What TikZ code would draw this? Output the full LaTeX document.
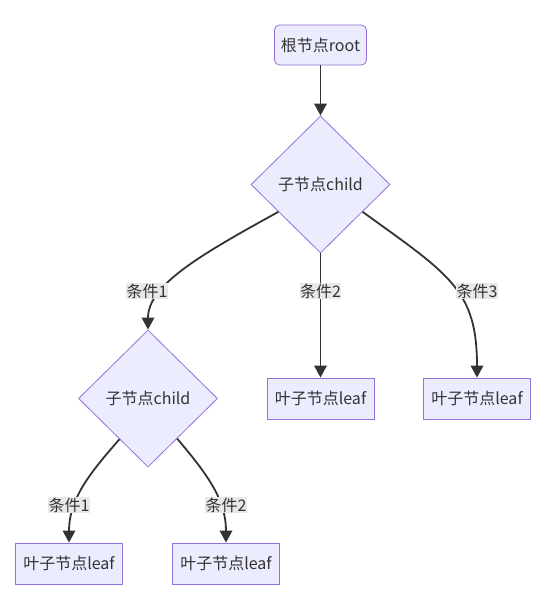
\documentclass[tikz,border=0pt]{standalone}
\usepackage{fontspec}
\setmainfont{Noto Sans CJK SC}
\usetikzlibrary{shapes.geometric,arrows.meta}
\definecolor{nodefill}{HTML}{ECECFF}
\definecolor{nodeline}{HTML}{9370DB}
\definecolor{edgecol}{HTML}{333333}
\definecolor{lblbg}{HTML}{E8E8E8}
\begin{document}
\begin{tikzpicture}[x=1pt,y=-1pt,
 every node/.style={font=\fontsize{16}{19}\selectfont, text=edgecol},
 rootbox/.style={draw=nodeline, fill=nodefill, rounded corners=5pt, minimum width=92pt, minimum height=40pt, inner sep=0pt, line width=0.8pt},
 leafbox/.style={draw=nodeline, fill=nodefill, minimum width=107pt, minimum height=41pt, inner sep=0pt, line width=0.8pt},
 decision/.style={diamond, draw=nodeline, fill=nodefill, minimum width=139pt, minimum height=137pt, inner sep=0pt, line width=0.8pt},
 edge/.style={draw=edgecol, line width=1.8pt, -{Triangle[length=12pt,width=12.5pt]}},
 cond/.style={fill=lblbg, inner xsep=0.5pt, inner ysep=0.8pt}]
\useasboundingbox[fill=white] (0,0) rectangle (559,607);
\node[rootbox] (root) at (320.5,45) {根节点root};
\node[decision] (d1) at (320.5,184.5) {子节点child};
\node[decision] (d2) at (148,398.5) {子节点child};
\node[leafbox] (m) at (320.5,398.5) {叶子节点leaf};
\node[leafbox] (r) at (477,398.5) {叶子节点leaf};
\node[leafbox] (l1) at (69,563.5) {叶子节点leaf};
\node[leafbox] (l2) at (226,563.5) {叶子节点leaf};
\draw[edge] (root) -- (d1);
\draw[edge] (d1.213) .. controls (200,255) and (148,285) .. (d2.north);
\draw[edge] (d1.south) -- (m.north);
\draw[edge] (d1.-33) .. controls (450,275) and (477,290) .. (r.north);
\draw[edge] (d2.235) .. controls (88,475) and (69,500) .. (l1.north);
\draw[edge] (d2.-54) .. controls (208,475) and (226,500) .. (l2.north);
\node[cond] (c1) at (147,291) {条件1};
\node[cond] (c2) at (320.5,291) {条件2};
\node[cond] (c3) at (477,291) {条件3};
\node[cond] (c4) at (69,505) {条件1};
\node[cond] (c5) at (226,505) {条件2};
\end{tikzpicture}
\end{document}
